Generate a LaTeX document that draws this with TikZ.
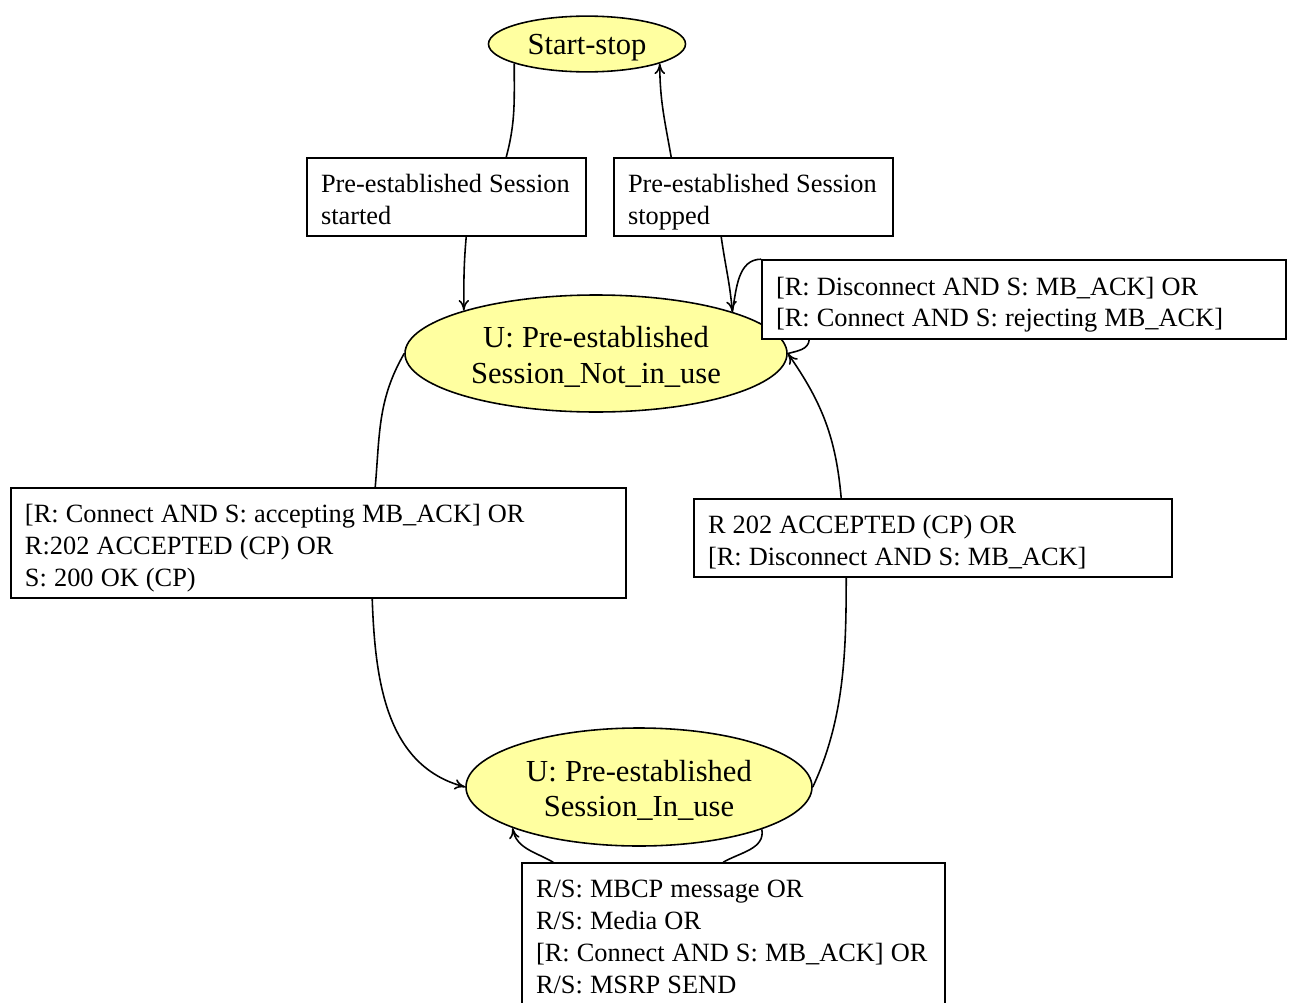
\documentclass[tikz,border=0pt]{standalone}
\usepackage{fontspec}
\setmainfont{Liberation Serif}
\usetikzlibrary{shapes.geometric, arrows.meta}

\definecolor{statefill}{RGB}{255,255,160}
% struts: top one gives a line height, bottom one a line depth
\newcommand{\topstrut}[1]{\rule{0pt}{#1\baselineskip}}
\newcommand{\botstrut}[1]{\rule[-#1\baselineskip]{0pt}{#1\baselineskip}}

\begin{document}
\begin{tikzpicture}[
        line width=0.9pt,
        >={To[length=6pt, width=6pt]},
        state/.style={ellipse, draw, fill=statefill, inner sep=0pt, align=center, font=\fontsize{17.4}{20.4}\selectfont},
        twolines/.style={execute at begin node={\spaceskip=0.27em\xspaceskip=0.27em\topstrut{0.82}}, execute at end node=\botstrut{0.15}},
        trans/.style={rectangle, draw, fill=white, align=left, inner xsep=0.28cm, inner ysep=0pt, font=\fontsize{15}{18.1}\selectfont, execute at begin node={\spaceskip=0.27em\xspaceskip=0.27em\topstrut{0.96}}, execute at end node=\botstrut{0.24}}
    ]
        \useasboundingbox (0, 0) rectangle (25.8, -20.06);

        % States
        \node[state, minimum width=3.94cm, minimum height=1.04cm, execute at begin node=\topstrut{0.85}, execute at end node=\botstrut{0.25}] (startstop) at (11.74, -0.88) {Start-stop};
        \node[state, twolines, text width=5.2cm, minimum width=7.64cm, minimum height=2.34cm] (notinuse) at (11.92, -7.07) {U: Pre-established\\Session\_Not\_in\_use};
        \node[state, twolines, text width=4.7cm, minimum width=6.92cm, minimum height=2.36cm] (inuse) at (12.78, -15.74) {U: Pre-established\\Session\_In\_use};

        % Transition labels
        \node[trans, text width=5.02cm, minimum height=1.56cm] (started) at (8.93, -3.94) {Pre-established Session\\started};
        \node[trans, text width=5.02cm, minimum height=1.56cm] (stopped) at (15.07, -3.94) {Pre-established Session\\stopped};
        \node[trans, text width=9.92cm, minimum height=1.58cm] (stayout) at (20.48, -5.99) {[R: Disconnect AND S: MB\_ACK] OR\\{}[R: Connect AND S: rejecting MB\_ACK]};
        \node[trans, text width=11.74cm, minimum height=2.2cm] (goin) at (6.37, -10.86) {[R: Connect AND S: accepting MB\_ACK] OR\\R:202 ACCEPTED (CP) OR\\S: 200 OK (CP)};
        \node[trans, text width=9.0cm, minimum height=1.56cm] (goout) at (18.66, -10.76) {R 202 ACCEPTED (CP) OR\\{}[R: Disconnect AND S: MB\_ACK]};
        \node[trans, text width=7.9cm, minimum height=2.84cm] (stayin) at (14.67, -18.68) {R/S: MBCP message OR\\R/S: Media OR\\{}[R: Connect AND S: MB\_ACK] OR\\R/S: MSRP SEND};

        % Start-stop <-> Not_in_use
        \draw (startstop.195) to[out=-90, in=75] ([xshift=4cm]started.north west);
        \draw[->] ([xshift=3.2cm]started.south west) to[out=-95, in=90] (notinuse.162.7);
        \draw[->] ([xshift=2.16cm]stopped.south west) to[out=-82, in=95] (notinuse.17);
        \draw[->] ([xshift=1.16cm]stopped.north west) to[out=100, in=-90] (startstop.345);

        % Not_in_use loop
        \draw (notinuse.east) to[out=15, in=-95] ([xshift=0.96cm]stayout.south west);
        \draw (stayout.north west) to[out=180, in=80] (notinuse.17);

        % Not_in_use <-> In_use
        \draw (notinuse.west) to[out=240, in=85] ([xshift=7.3cm]goin.north west);
        \draw[->] ([xshift=7.24cm]goin.south west) to[out=-88, in=165] (inuse.west);
        \draw (inuse.east) to[out=65, in=-90, looseness=0.9] ([xshift=3.06cm]goout.south west);
        \draw[->] ([xshift=2.96cm]goout.north west) to[out=95, in=-55] (notinuse.east);

        % In_use loop
        \draw (inuse.341.4) to[out=-80, in=30] ([xshift=4.04cm]stayin.north west);
        \draw[->] ([xshift=0.64cm]stayin.north west) to[out=150, in=-80] (inuse.198.6);

    \end{tikzpicture}
\end{document}
